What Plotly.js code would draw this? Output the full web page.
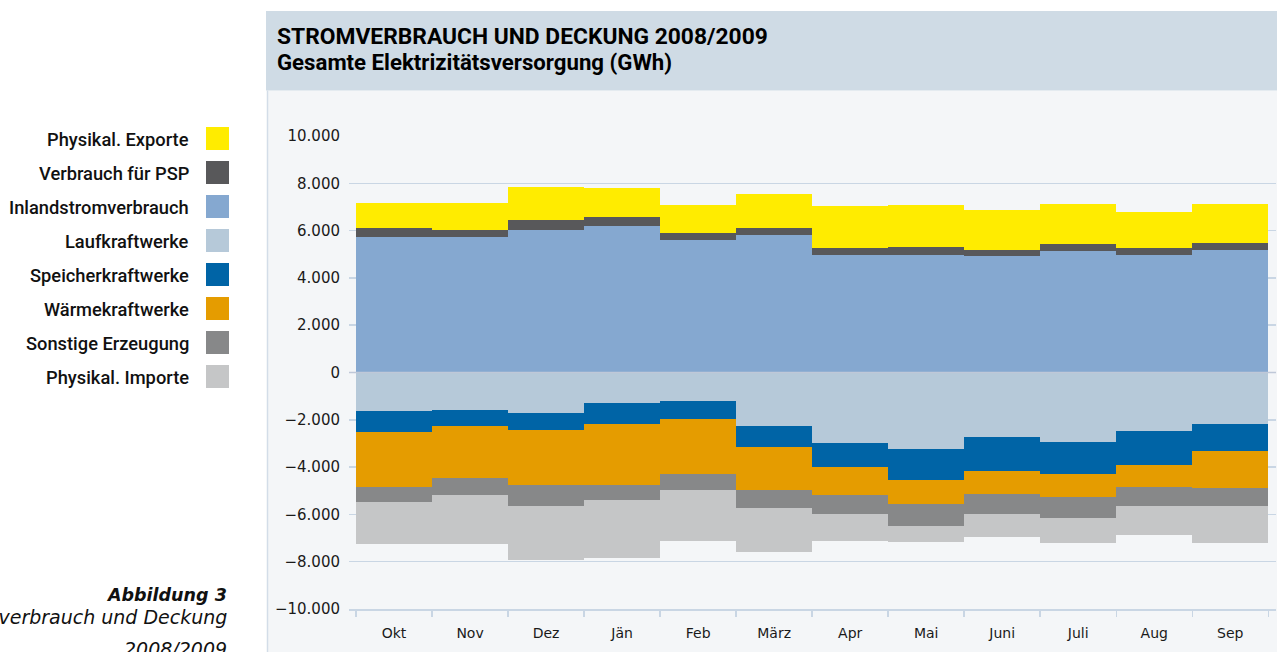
<!DOCTYPE html>
<html>
<head>
<meta charset="utf-8">
<script src="https://cdn.plot.ly/plotly-3.0.1.min.js"></script>
<style>
  html, body { margin: 0; padding: 0; background: #ffffff; }
  #chart { width: 1277px; height: 652px; }
</style>
</head>
<body>
<div id="chart"></div>
<script>
// ---- data (GWh) ----
const months = ['Okt', 'Nov', 'Dez', 'Jän', 'Feb', 'März', 'Apr', 'Mai', 'Juni', 'Juli', 'Aug', 'Sep'];

const inlandstromverbrauch = [5750, 5720, 6030, 6200, 5590, 5820, 4980, 4980, 4930, 5140, 4960, 5170];
const verbrauchPSP        = [380, 310, 400, 360, 290, 270, 290, 330, 270, 310, 320, 300];
const physExporte         = [1040, 1120, 1420, 1230, 1190, 1450, 1760, 1770, 1680, 1660, 1490, 1650];

const laufkraftwerke      = [-1620, -1570, -1720, -1300, -1210, -2260, -2960, -3230, -2710, -2950, -2470, -2160];
const speicherkraftwerke  = [-880, -690, -730, -870, -740, -870, -1020, -1300, -1440, -1350, -1440, -1150];
const waermekraftwerke    = [-2350, -2180, -2290, -2580, -2350, -1840, -1200, -1040, -970, -980, -930, -1560];
const sonstigeErzeugung   = [-610, -720, -890, -620, -650, -770, -790, -900, -850, -880, -800, -770];
const physImporte         = [-1780, -2080, -2280, -2490, -2190, -1860, -1140, -680, -980, -1030, -1220, -1570];

const yTickVals = [-10000, -8000, -6000, -4000, -2000, 0, 2000, 4000, 6000, 8000, 10000];

const titleLine1 = 'STROMVERBRAUCH UND DECKUNG 2008/2009';
const titleLine2 = 'Gesamte Elektrizitätsversorgung (GWh)';
const captionLines = ['Abbildung 3', 'Stromverbrauch und Deckung', '2008/2009'];

// series in stacking order
const series = [
  { name: 'Inlandstromverbrauch', values: inlandstromverbrauch, color: '#85a8d0' },
  { name: 'Verbrauch für PSP',    values: verbrauchPSP,         color: '#58585a' },
  { name: 'Physikal. Exporte',    values: physExporte,          color: '#ffec00' },
  { name: 'Laufkraftwerke',       values: laufkraftwerke,       color: '#b6c9d9' },
  { name: 'Speicherkraftwerke',   values: speicherkraftwerke,   color: '#0064a6' },
  { name: 'Wärmekraftwerke',      values: waermekraftwerke,     color: '#e59c00' },
  { name: 'Sonstige Erzeugung',   values: sonstigeErzeugung,    color: '#878889' },
  { name: 'Physikal. Importe',    values: physImporte,          color: '#c5c6c7' }
];
const legendOrder = ['Physikal. Exporte', 'Verbrauch für PSP', 'Inlandstromverbrauch', 'Laufkraftwerke',
                     'Speicherkraftwerke', 'Wärmekraftwerke', 'Sonstige Erzeugung', 'Physikal. Importe'];

// ---- layout geometry (pixels) ----
const W = 1277, H = 652;
const M = { l: 349, r: 1, t: 136, b: 43 };
const PW = W - M.l - M.r, PH = H - M.t - M.b;
const px = x => (x - M.l) / PW;
const py = y => (H - M.b - y) / PH;

const gridColor = '#c9d6e4';

const traces = series.map(s => ({
  type: 'bar',
  name: s.name,
  x: months,
  y: s.values,
  marker: { color: s.color, line: { width: 0 } },
  showlegend: false,
  hoverinfo: 'x+y+name'
}));

const shapes = [
  // panel background
  { type: 'rect', xref: 'paper', yref: 'paper', x0: px(267), x1: px(1277), y0: py(652), y1: py(90.5),
    fillcolor: '#f4f6f8', line: { width: 0 }, layer: 'below' },
  // header band
  { type: 'rect', xref: 'paper', yref: 'paper', x0: px(266), x1: px(1277), y0: py(90.5), y1: py(11),
    fillcolor: '#cfdbe5', line: { width: 0 }, layer: 'below' },
  // left border of panel
  { type: 'line', xref: 'paper', yref: 'paper', x0: px(267.5), x1: px(267.5), y0: py(652), y1: py(90.5),
    line: { color: '#d3dde8', width: 1.5 }, layer: 'below' },
  // zero line
  { type: 'line', xref: 'paper', yref: 'y', x0: 0, x1: 1, y0: 0, y1: 0,
    line: { color: '#bfc8d8', width: 1.5 }, layer: 'above' }
];

const annotations = [];
const headFont = 'Roboto, "Liberation Sans", sans-serif';

// header lines
annotations.push({
  xref: 'paper', yref: 'paper', x: px(275), y: py(36), xanchor: 'left', yanchor: 'middle',
  text: '<b>' + titleLine1 + '</b>', showarrow: false,
  font: { family: headFont, size: 22.8, color: '#000000' }
});
annotations.push({
  xref: 'paper', yref: 'paper', x: px(275), y: py(62.5), xanchor: 'left', yanchor: 'middle',
  text: '<b>' + titleLine2 + '</b>', showarrow: false,
  font: { family: headFont, size: 22.2, color: '#000000' }
});

// legend (text + swatch)
legendOrder.forEach((nm, i) => {
  const s = series.find(t => t.name === nm);
  const c = 138.5 + 34 * i;
  shapes.push({ type: 'rect', xref: 'paper', yref: 'paper',
    x0: px(206), x1: px(229), y0: py(c + 11.5), y1: py(c - 11.5),
    fillcolor: s.color, line: { width: 0 } });
  annotations.push({ xref: 'paper', yref: 'paper', x: px(191), y: py(c + 1), xanchor: 'right', yanchor: 'middle',
    text: nm, showarrow: false,
    font: { family: headFont, size: 18.3, color: '#111111', weight: 500 } });
});

// caption (right-aligned, partly outside the page on the left as in the reference)
const capFont = '"DejaVu Sans", Verdana, sans-serif';
annotations.push({ xref: 'paper', yref: 'paper', x: px(229), y: py(595), xanchor: 'right', yanchor: 'middle',
  text: '<b><i>' + captionLines[0] + '</i></b>', showarrow: false,
  font: { family: capFont, size: 17.5, color: '#111111' } });
annotations.push({ xref: 'paper', yref: 'paper', x: px(229), y: py(617), xanchor: 'right', yanchor: 'middle',
  text: '<i>' + captionLines[1] + '</i>', showarrow: false,
  font: { family: capFont, size: 19, color: '#111111' } });
annotations.push({ xref: 'paper', yref: 'paper', x: px(229), y: py(649), xanchor: 'right', yanchor: 'middle',
  text: '<i>' + captionLines[2] + '</i>', showarrow: false,
  font: { family: capFont, size: 19, color: '#111111' } });

const layout = {
  width: W, height: H,
  margin: M,
  paper_bgcolor: '#ffffff',
  plot_bgcolor: 'rgba(0,0,0,0)',
  separators: ',.',
  barmode: 'relative',
  bargap: 0,
  xaxis: {
    type: 'category',
    range: [-0.592, 11.601],
    tickson: 'boundaries',
    ticks: 'outside', ticklen: 6, tickcolor: gridColor, tickwidth: 1.5,
    showline: true, linecolor: gridColor, linewidth: 1.5,
    showgrid: false, zeroline: false,
    ticklabelstandoff: 11,
    tickfont: { family: '"DejaVu Sans", sans-serif', size: 14, color: '#1a1a1a' },
    fixedrange: true
  },
  yaxis: {
    range: [-10000, 10000],
    tickvals: yTickVals,
    tickformat: ',d',
    showgrid: true, gridcolor: gridColor, gridwidth: 1.5,
    zeroline: false, showline: false, ticks: '',
    ticklabelstandoff: 8,
    tickfont: { family: '"DejaVu Sans", sans-serif', size: 15, color: '#1a1a1a' },
    fixedrange: true
  },
  shapes: shapes,
  annotations: annotations
};

Plotly.newPlot('chart', traces, layout, { displayModeBar: false, staticPlot: true });
</script>
</body>
</html>
